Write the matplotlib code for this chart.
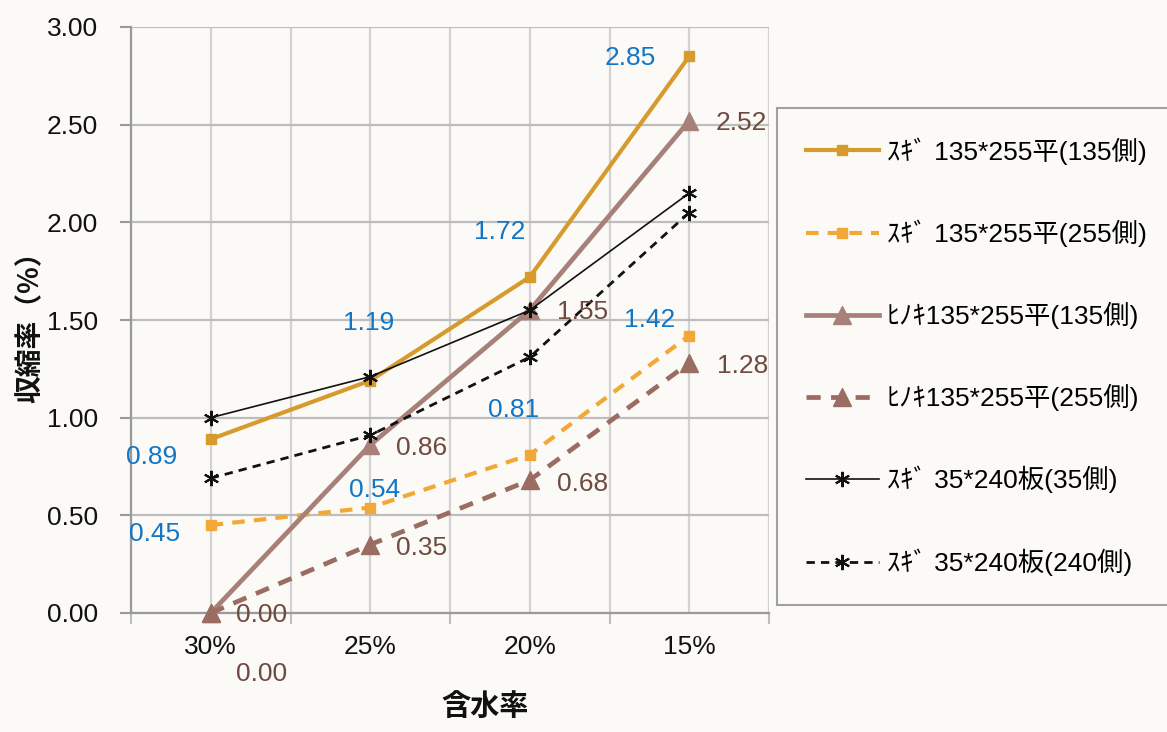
import matplotlib
matplotlib.use("Agg")
import matplotlib.pyplot as plt
from matplotlib.font_manager import FontProperties

# --- data -------------------------------------------------------------
moisture = ["30%", "25%", "20%", "15%"]

sugi_135x255_side135 = [0.89, 1.19, 1.72, 2.85]
sugi_135x255_side255 = [0.45, 0.54, 0.81, 1.42]
hinoki_135x255_side135 = [0.00, 0.86, 1.55, 2.52]
hinoki_135x255_side255 = [0.00, 0.35, 0.68, 1.28]
sugi_35x240_side35 = [1.00, 1.21, 1.55, 2.15]
sugi_35x240_side240 = [0.69, 0.91, 1.31, 2.05]

series_names = [
    "ｽｷﾞ 135*255平(135側)",
    "ｽｷﾞ 135*255平(255側)",
    "ﾋﾉｷ135*255平(135側)",
    "ﾋﾉｷ135*255平(255側)",
    "ｽｷﾞ 35*240板(35側)",
    "ｽｷﾞ 35*240板(240側)",
]

y_ticks = [0.0, 0.5, 1.0, 1.5, 2.0, 2.5, 3.0]

# --- styling ------------------------------------------------------------
BG = "#FBFAF6"
LATIN_CJK = ["Liberation Sans", "Noto Sans CJK JP"]
BLUE = "#1276C6"
BROWN = "#6E4A40"
FS = 19

styles = [
    dict(color="#D69A2D", lw=3.0, ls="-", marker="s", ms=7),
    dict(color="#F1A836", lw=3.0, ls=(0, (3, 2.2)), marker="s", ms=7),
    dict(color="#A78079", lw=3.4, ls="-", marker="^", ms=13),
    dict(color="#9A6C62", lw=3.4, ls=(0, (3, 2.2)), marker="^", ms=13),
    dict(color="#111111", lw=1.2, ls="-", marker=(6, 2, 0), ms=11, mew=1.5),
    dict(color="#111111", lw=2.0, ls=(0, (3, 2.2)), marker=(6, 2, 0), ms=11, mew=1.5),
]

# value-label placement (pixel offsets from each point)
label_offsets = [
    [(-59, -16), (-2, 60), (-30, 47), (-59, 0)],
    [(-56, -7), (4, 20), (-16, 47), (-40, 18)],
    [(51, 0), (51, -1), (53, 0), (52, 0)],
    [(51, -59), (51, -1), (53, -2), (53, -1)],
]
label_colors = [BLUE, BLUE, BROWN, BROWN]

plt.rcParams["font.family"] = LATIN_CJK

fig = plt.figure(figsize=(11.67, 7.32), dpi=100, facecolor=BG)
W, H = 1167, 732
ax = fig.add_axes([131 / W, 1 - 613 / H, (769 - 131) / W, (613 - 27) / H])
ax.set_facecolor(BG)

x = list(range(len(moisture)))
all_series = [
    sugi_135x255_side135,
    sugi_135x255_side255,
    hinoki_135x255_side135,
    hinoki_135x255_side255,
    sugi_35x240_side35,
    sugi_35x240_side240,
]

handles = []
for vals, st, name in zip(all_series, styles, series_names):
    (ln,) = ax.plot(
        x, vals,
        color=st["color"], lw=st["lw"], linestyle=st["ls"],
        marker=st["marker"], markersize=st["ms"],
        markeredgewidth=st.get("mew", 1.0),
        markerfacecolor=st["color"], markeredgecolor=st["color"],
        clip_on=False, zorder=3, label=name,
    )
    handles.append(ln)

# value labels for the first four series
for vals, offs, col in zip(all_series[:4], label_offsets, label_colors):
    for xi, v, (dx, dy) in zip(x, vals, offs):
        ax.annotate(
            f"{v:.2f}", (xi, v), xytext=(dx, dy - 2), textcoords="offset pixels",
            ha="center", va="center", fontsize=FS, color=col,
            family="Liberation Sans", zorder=4, annotation_clip=False,
        )

# axes, ticks and grid
ax.set_xlim(-0.5, len(moisture) - 0.5)
ax.set_ylim(0, 3)
ax.set_yticks(y_ticks)
ax.set_yticklabels([f"{t:.2f}" for t in y_ticks])
ax.set_xticks(x)
ax.set_xticklabels(moisture)
ax.set_xticks([i - 0.5 for i in range(len(moisture) + 1)], minor=True)

ax.tick_params(axis="y", direction="out", length=8, width=1.5, color="#9A9A9A",
               pad=16, labelsize=FS, labelcolor="#111111")
ax.tick_params(axis="x", which="major", length=0, pad=16, labelsize=FS,
               labelcolor="#111111")
ax.tick_params(axis="x", which="minor", direction="out", length=8, width=1.5,
               color="#BDBDBD")

ax.grid(True, axis="x", which="both", color="#D2D2D2", lw=1.6)
ax.grid(True, axis="y", which="major", color="#BDBDBD", lw=1.6)
ax.set_axisbelow(True)

for side in ("top", "right"):
    ax.spines[side].set_visible(False)
ax.spines["left"].set_color("#9A9A9A")
ax.spines["left"].set_linewidth(1.6)
ax.spines["bottom"].set_color("#9A9A9A")
ax.spines["bottom"].set_linewidth(1.6)

# axis titles
fig.text(31 / W, 1 - 320 / H, "収縮率（%）", rotation=90, ha="center", va="center",
         fontsize=20, fontweight="bold", family="Noto Sans CJK JP", color="#111111")
fig.text(485 / W, 1 - 706 / H, "含水率", ha="center", va="center",
         fontsize=21, fontweight="bold", family="Noto Sans CJK JP", color="#111111")

# legend, running off the right-hand edge of the figure
leg = fig.legend(
    handles, series_names, loc="upper left",
    bbox_to_anchor=(777 / W, 1 - 108 / H, 420 / W, 0.0), mode="expand",
    borderaxespad=0.0,
    frameon=True, fancybox=False, framealpha=1.0,
    edgecolor="#A0A0A0", facecolor=BG,
    prop=FontProperties(family=LATIN_CJK, size=FS),
    handlelength=2.75, handletextpad=0.3, labelspacing=2.08,
    borderpad=1.1, numpoints=1,
)
leg.get_frame().set_linewidth(1.5)

fig.savefig("out.png", dpi=100, facecolor=BG)
